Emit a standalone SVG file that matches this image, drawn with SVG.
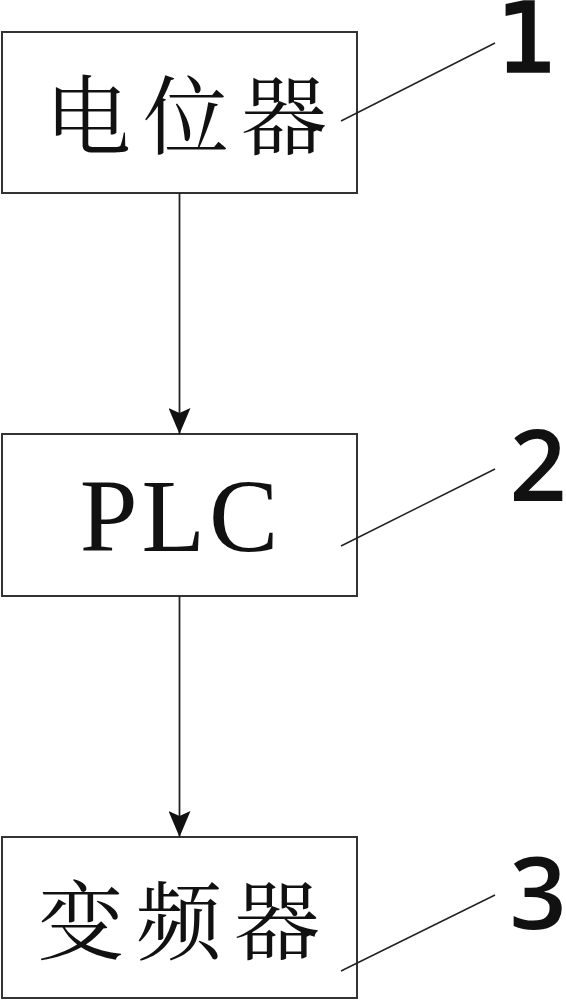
<svg xmlns="http://www.w3.org/2000/svg" width="566" height="1000" viewBox="0 0 566 1000">
<style>
.box{fill:#fff;stroke:#333;stroke-width:2}
.cjk{font-family:"Noto Serif CJK SC","Noto Sans CJK SC",serif;font-size:86px;fill:#111;letter-spacing:12px}
.lat{font-family:"Liberation Serif",serif;font-size:104px;fill:#111}
.num{font-family:"Open Sans","DejaVu Sans",sans-serif;font-size:100px;font-weight:600;fill:#111}
.one{font-family:"DejaVu Sans","Noto Sans",sans-serif;font-size:94px;fill:#111;stroke:#111;stroke-width:3.5}
.conn{stroke:#222;stroke-width:1.8;fill:none}
.lead{stroke:#222;stroke-width:1.5;fill:none}
</style>
<defs>
<marker id="ah" viewBox="0 0 22 26" refX="11" refY="26" markerWidth="22" markerHeight="26" markerUnits="userSpaceOnUse" orient="0">
<path d="M0,0 L11,5 L22,0 L11,26 Z" fill="#111"/>
</marker>
</defs>
<rect width="566" height="1000" fill="#fff"/>
<g id="n1">
<rect class="box" x="2" y="32" width="355" height="161"/>
<text class="cjk" x="192" y="148" text-anchor="middle">电位器</text>
</g>
<g id="n2">
<rect class="box" x="2" y="434" width="355" height="162"/>
<text class="lat" x="181" y="551" text-anchor="middle" letter-spacing="4">PLC</text>
</g>
<g id="n3">
<rect class="box" x="2" y="837" width="355" height="161"/>
<text class="cjk" x="185" y="953" text-anchor="middle">变频器</text>
</g>
<g id="labels">
<line class="lead" x1="341" y1="121" x2="495" y2="43"/>
<text class="one" x="527" y="71" text-anchor="middle">1</text>
<line class="lead" x1="341" y1="546" x2="495" y2="469"/>
<text class="num" x="538" y="501" text-anchor="middle">2</text>
<line class="lead" x1="341" y1="971" x2="495" y2="895"/>
<text class="num" x="538" y="929" text-anchor="middle">3</text>
</g>
<g id="connectors">
<line class="conn" x1="179.5" y1="193" x2="179.5" y2="434" marker-end="url(#ah)"/>
<line class="conn" x1="179.5" y1="596" x2="179.5" y2="837" marker-end="url(#ah)"/>
</g>
</svg>
